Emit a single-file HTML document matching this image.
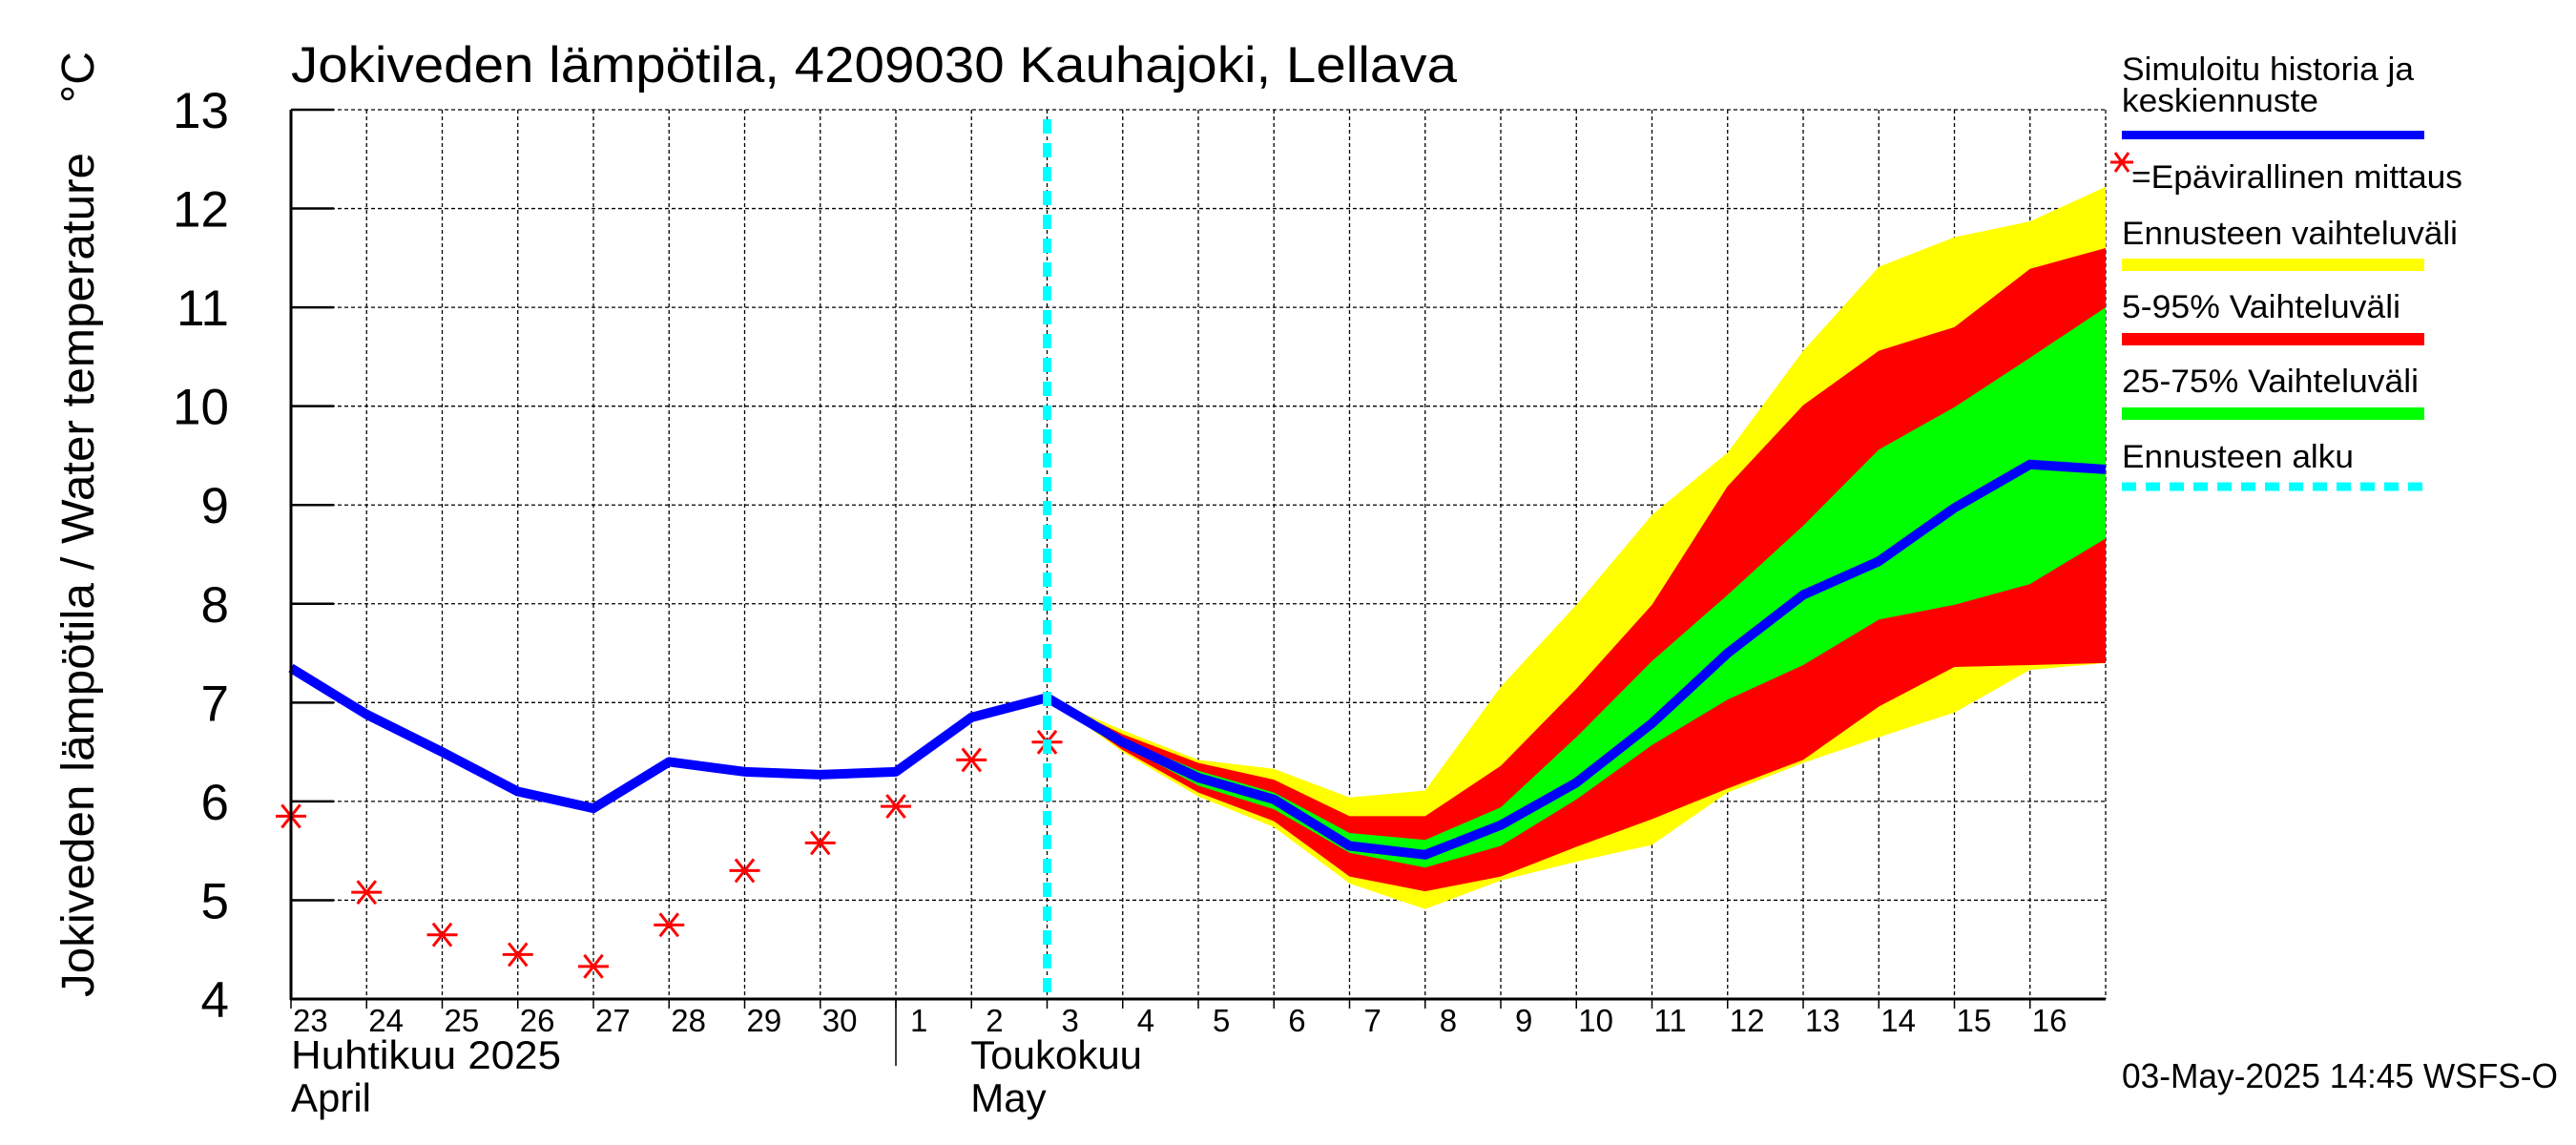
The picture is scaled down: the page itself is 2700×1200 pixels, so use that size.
<!DOCTYPE html>
<html><head><meta charset="utf-8"><style>
html,body{margin:0;padding:0;background:#fff;}
svg{display:block;font-family:"Liberation Sans",sans-serif;}
</style></head><body>
<svg id="chart" width="2700" height="1200" viewBox="0 0 2700 1200" xmlns="http://www.w3.org/2000/svg">
<rect width="2700" height="1200" fill="#fff"/>
<text x="305" y="86" font-size="53" textLength="1222" lengthAdjust="spacingAndGlyphs">Jokiveden lämpötila, 4209030 Kauhajoki, Lellava</text>
<text transform="translate(98,1045) rotate(-90)" font-size="48" textLength="885" lengthAdjust="spacingAndGlyphs">Jokiveden lämpötila / Water temperature</text>
<text transform="translate(98,108) rotate(-90)" font-size="48">°C</text>
<g id="grid"></g>
<g id="bands"></g>
<g id="series"></g>
<g id="axes"></g>
<g font-size="34">
<text x="2224" y="84" textLength="306" lengthAdjust="spacingAndGlyphs">Simuloitu historia ja</text>
<text x="2224" y="117" textLength="206" lengthAdjust="spacingAndGlyphs">keskiennuste</text>
<rect x="2224" y="137" width="317" height="9" fill="#0000ff"/>
<g stroke="#ff0000" stroke-width="3">
<line x1="2212" y1="170" x2="2236" y2="170"/><line x1="2217" y1="160" x2="2231" y2="180"/><line x1="2217" y1="180" x2="2231" y2="160"/>
</g>
<text x="2234" y="197" textLength="347" lengthAdjust="spacingAndGlyphs">=Epävirallinen mittaus</text>
<text x="2224" y="256" textLength="352" lengthAdjust="spacingAndGlyphs">Ennusteen vaihteluväli</text>
<rect x="2224" y="271" width="317" height="13" fill="#ffff00"/>
<text x="2224" y="333" textLength="292" lengthAdjust="spacingAndGlyphs">5-95% Vaihteluväli</text>
<rect x="2224" y="349" width="317" height="13" fill="#ff0000"/>
<text x="2224" y="411" textLength="311" lengthAdjust="spacingAndGlyphs">25-75% Vaihteluväli</text>
<rect x="2224" y="427" width="317" height="13" fill="#00ff00"/>
<text x="2224" y="490" textLength="243" lengthAdjust="spacingAndGlyphs">Ennusteen alku</text>
<line x1="2224" y1="510" x2="2541" y2="510" stroke="#00ffff" stroke-width="9" stroke-dasharray="15,10"/>
</g>
<text x="2224" y="1140" font-size="36" textLength="457" lengthAdjust="spacingAndGlyphs">03-May-2025 14:45 WSFS-O</text>
</svg>
<script>
const dayLabels = ["23","24","25","26","27","28","29","30","1","2","3","4","5","6","7","8","9","10","11","12","13","14","15","16"];
const yTicks = [4,5,6,7,8,9,10,11,12,13];
const simulated = [7.35,6.88,6.5,6.1,5.93,6.4,6.3,6.27,6.3,6.85,7.05,6.6,6.24,6.02,5.55,5.46,5.76,6.19,6.79,7.5,8.09,8.43,8.97,9.41,9.36];
const observed = [5.85,5.08,4.65,4.45,4.33,4.75,5.3,5.58,5.95,6.42,6.6];
const forecastStart = 10;
const yellowHi = [7.05,6.72,6.42,6.33,6.04,6.11,7.16,7.99,8.9,9.53,10.56,11.41,11.71,11.87,12.22];
const yellowLo = [7.05,6.5,6.05,5.74,5.17,4.91,5.2,5.39,5.56,6.09,6.39,6.65,6.9,7.33,7.4];
const redHi = [7.05,6.68,6.39,6.22,5.85,5.85,6.36,7.14,7.99,9.19,10.01,10.56,10.8,11.39,11.6];
const redLo = [7.05,6.52,6.09,5.8,5.24,5.09,5.24,5.54,5.82,6.13,6.42,6.96,7.36,7.38,7.4];
const greenHi = [7.05,6.63,6.31,6.09,5.68,5.61,5.94,6.65,7.42,8.09,8.79,9.56,9.99,10.49,11.0];
const greenLo = [7.05,6.57,6.16,5.92,5.48,5.33,5.55,6.02,6.57,7.03,7.38,7.84,7.99,8.2,8.66];

const NS="http://www.w3.org/2000/svg";
const X0=305, DX=79.25, Y13=115, Y4=1047, NDAYS=24;
const xs = i => X0 + i*DX;
const ys = v => Y4 - (v-4)*(Y4-Y13)/9;
function mk(tag, attrs, parent){const e=document.createElementNS(NS,tag);for(const k in attrs)e.setAttribute(k,attrs[k]);parent.appendChild(e);return e;}
const grid=document.getElementById('grid'), bands=document.getElementById('bands'), series=document.getElementById('series'), axes=document.getElementById('axes');
const XR = xs(NDAYS);
yTicks.forEach(t=>{
  const l=mk('line',{x1:X0,x2:XR,y1:ys(t),y2:ys(t),stroke:'#000','stroke-width':1.3,'stroke-dasharray':'4,3'},grid);
  
  
  const tk=mk('line',{x1:X0,x2:X0+45,y1:ys(t),y2:ys(t),stroke:'#000','stroke-width':2.5},axes);
  
  
  const tx=mk('text',{x:240,y:ys(t)+19,'font-size':53,'text-anchor':'end'},axes);
  tx.textContent=t;
  
  
});
for(let i=1;i<=NDAYS;i++){
  const l=mk('line',{x1:xs(i),x2:xs(i),y1:Y13,y2:Y4,stroke:'#000','stroke-width':1.3,'stroke-dasharray':'4,3'},grid);
  
  
}
dayLabels.forEach((d,i)=>{
  const tk=mk('line',{x1:xs(i),x2:xs(i),y1:Y4,y2:Y4+10,stroke:'#000','stroke-width':1.5},axes);
  
  
  const tx=mk('text',{x:xs(i)+(d.length===1?15:2),y:1081,'font-size':33},axes);
  tx.textContent=d;
  
  
});
function band(hi,lo,color,name){
  let pts=[];
  hi.forEach((v,i)=>pts.push(xs(forecastStart+i)+','+ys(v)));
  for(let i=lo.length-1;i>=0;i--)pts.push(xs(forecastStart+i)+','+ys(lo[i]));
  const p=mk('polygon',{points:pts.join(' '),fill:color},bands);
  
  
}
band(yellowHi,yellowLo,'#ffff00','band-forecast-range');
band(redHi,redLo,'#ff0000','band-5-95');
band(greenHi,greenLo,'#00ff00','band-25-75');
const sl=mk('polyline',{points:simulated.map((v,i)=>xs(i)+','+ys(v)).join(' '),fill:'none',stroke:'#0000ff','stroke-width':10,'stroke-linejoin':'round'},series);


observed.forEach((v,i)=>{
  const cx=xs(i), cy=ys(v), r=16;
  const g=mk('g',{stroke:'#ff0000','stroke-width':3},series);
  
  
  mk('line',{x1:cx-r,x2:cx+r,y1:cy,y2:cy},g);
  mk('line',{x1:cx-r*0.6,x2:cx+r*0.6,y1:cy-r*0.75,y2:cy+r*0.75},g);
  mk('line',{x1:cx-r*0.6,x2:cx+r*0.6,y1:cy+r*0.75,y2:cy-r*0.75},g);
});
const fs=mk('line',{x1:xs(forecastStart),x2:xs(forecastStart),y1:Y13+10,y2:Y4,stroke:'#00ffff','stroke-width':9,'stroke-dasharray':'15,10'},series);


const ax1=mk('line',{x1:X0,x2:X0,y1:Y13,y2:Y4+1,stroke:'#000','stroke-width':3},axes);


const ax2=mk('line',{x1:X0-1,x2:XR,y1:Y4,y2:Y4,stroke:'#000','stroke-width':3},axes);


const ms=mk('line',{x1:xs(8),x2:xs(8),y1:Y4,y2:1117,stroke:'#000','stroke-width':1.5},axes);


[["Huhtikuu  2025",X0,1120,283,"month-label-fi-april"],["April",X0,1165,84,"month-label-en-april"],["Toukokuu",xs(9)-1,1120,null,"month-label-fi-may"],["May",xs(9)-1,1165,null,"month-label-en-may"]].forEach(m=>{
  const a={x:m[1],y:m[2],'font-size':42};
  if(m[3]){a.textLength=m[3];a.lengthAdjust='spacingAndGlyphs';}
  const t=mk('text',a,axes);
  t.textContent=m[0];
  
  
});
</script>
</body></html>
